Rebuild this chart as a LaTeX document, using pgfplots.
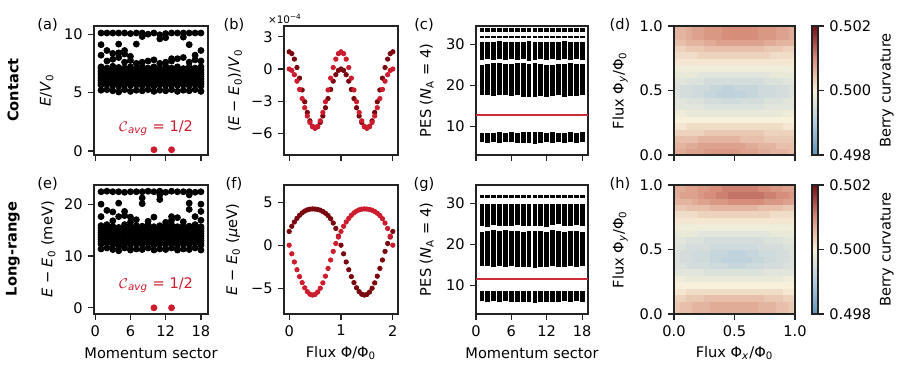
\documentclass[border=0pt]{standalone}
\usepackage{fontspec}
\setmainfont{DejaVu Sans}
\usepackage{pgfplots}
\pgfplotsset{compat=1.18}
\definecolor{dk}{RGB}{122,6,14}
\definecolor{rd}{RGB}{205,28,45}
\definecolor{pesred}{RGB}{205,45,55}
\definecolor{frame}{RGB}{35,35,35}
\pgfplotsset{
  panel/.style={scale only axis, width=57pt, height=64.5pt, anchor=north west,
    axis line style={draw=frame, line width=0.6pt},
    every tick/.style={draw=frame, line width=0.6pt},
    tick align=outside, xtick pos=bottom, ytick pos=left,
    major tick length=3pt,
    font=\fontsize{7.3}{8.8}\selectfont,
    ylabel style={anchor=center},
    xlabel style={anchor=center, at={(rel axis cs:0.5,-0.302)}},
  },
  dots/.style={only marks, mark=*, mark size=1.5pt, black},
  blocks/.style={black, line width=2.4pt, unbounded coords=jump, mark=none},
  fl/.style={only marks, mark=*, mark size=1.1pt},
  berry/.style={colormap={berry}{rgb255=(98,148,192) rgb255=(178,203,220) rgb255=(247,240,218) rgb255=(214,142,122) rgb255=(122,12,22)},
    point meta min=-20, point meta max=20, axis on top,
    xmin=-0.5, xmax=19.5, ymin=-0.5, ymax=19.5,
    xtick={-0.5,9.5,19.5}, ytick={-0.5,9.5,19.5}, yticklabels={0.0,0.5,1.0},
    colorbar,
    colorbar style={scale only axis, width=3pt, height=64.5pt, at={(parent axis.north east)}, anchor=north west,
      ytick={-20,0,20}, yticklabels={0.498,0.500,0.502}, yticklabel pos=right, ytick pos=right,
      tick align=outside, major tick length=3pt, font=\fontsize{7.3}{8.8}\selectfont,
      axis line style={draw=frame, line width=0.6pt}, every tick/.style={draw=frame, line width=0.6pt},
      ylabel={Berry curvature}, ylabel style={at={(rel axis cs:12.45,0.5)}, anchor=center}},
  },
}
\begin{document}
\fontsize{7.3}{8.8}\selectfont
\begin{tikzpicture}
\path[use as bounding box] (0,0) rectangle (448.5pt,-185pt);

% ---------------- (a)
\begin{axis}[panel, at={(47pt,-13pt)}, xmin=-0.2, xmax=19.2, ymin=-0.35, ymax=10.7,
  xtick={0,6,12,18}, xticklabels={}, ytick={0,5,10}, yticklabels={0,5,10},
  ylabel={\textit{E}/\textit{V}\textsubscript{0}}, ylabel style={at={(rel axis cs:-0.415,0.5)}}]
\addplot[dots] table[row sep=\\] {x y\\
1 5.20\\1 5.65\\1 5.85\\1 6.05\\1 6.25\\1 6.45\\1 6.65\\1 6.85\\1 7.05\\1 7.20\\1 8.20\\1 9.10\\1 10.10\\
2 5.25\\2 5.70\\2 5.90\\2 6.10\\2 6.30\\2 6.50\\2 6.70\\2 6.90\\2 7.10\\2 7.70\\2 8.60\\2 10.10\\
3 5.15\\3 5.60\\3 5.80\\3 6.00\\3 6.20\\3 6.40\\3 6.60\\3 6.80\\3 7.00\\3 7.25\\3 7.85\\3 8.35\\3 10.10\\
4 5.05\\4 5.55\\4 5.75\\4 5.95\\4 6.15\\4 6.35\\4 6.55\\4 6.75\\4 6.95\\4 7.15\\4 8.00\\4 8.40\\4 9.15\\4 10.10\\
5 5.25\\5 5.70\\5 5.90\\5 6.10\\5 6.30\\5 6.50\\5 6.70\\5 6.90\\5 7.10\\5 7.60\\5 8.30\\5 8.60\\5 10.10\\
6 5.10\\6 5.60\\6 5.80\\6 6.00\\6 6.20\\6 6.40\\6 6.60\\6 6.80\\6 7.00\\6 7.20\\6 7.75\\6 8.10\\6 10.05\\
7 5.20\\7 5.65\\7 5.85\\7 6.05\\7 6.25\\7 6.45\\7 6.65\\7 6.85\\7 7.05\\7 7.50\\7 9.15\\7 10.10\\
8 5.15\\8 5.60\\8 5.80\\8 6.00\\8 6.20\\8 6.40\\8 6.60\\8 6.80\\8 7.00\\8 7.25\\8 7.60\\8 9.80\\8 10.10\\
9 5.25\\9 5.70\\9 5.90\\9 6.10\\9 6.30\\9 6.50\\9 6.70\\9 6.90\\9 7.10\\9 7.70\\9 10.00\\
10 5.10\\10 5.55\\10 5.75\\10 5.95\\10 6.15\\10 6.35\\10 6.55\\10 6.75\\10 6.95\\10 7.20\\10 7.80\\10 10.10\\
11 5.20\\11 5.65\\11 5.85\\11 6.05\\11 6.25\\11 6.45\\11 6.65\\11 6.85\\11 7.05\\11 7.50\\11 9.60\\11 9.95\\
12 5.15\\12 5.60\\12 5.80\\12 6.00\\12 6.20\\12 6.40\\12 6.60\\12 6.80\\12 7.00\\12 7.25\\12 7.60\\12 9.70\\12 10.05\\
13 5.25\\13 5.70\\13 5.90\\13 6.10\\13 6.30\\13 6.50\\13 6.70\\13 6.90\\13 7.10\\13 7.70\\13 7.90\\13 10.10\\
14 5.10\\14 5.60\\14 5.80\\14 6.00\\14 6.20\\14 6.40\\14 6.60\\14 6.80\\14 7.00\\14 7.20\\14 7.90\\14 10.10\\
15 5.20\\15 5.65\\15 5.85\\15 6.05\\15 6.25\\15 6.45\\15 6.65\\15 6.85\\15 7.05\\15 8.00\\15 9.75\\15 10.10\\
16 5.15\\16 5.60\\16 5.80\\16 6.00\\16 6.20\\16 6.40\\16 6.60\\16 6.80\\16 7.00\\16 7.20\\16 7.60\\16 9.10\\16 10.10\\
17 5.25\\17 5.70\\17 5.90\\17 6.10\\17 6.30\\17 6.50\\17 6.70\\17 6.90\\17 7.10\\17 7.80\\17 8.20\\17 10.10\\
18 5.10\\18 5.55\\18 5.75\\18 5.95\\18 6.15\\18 6.35\\18 6.55\\18 6.75\\18 6.95\\18 7.20\\18 7.70\\18 8.60\\18 10.10\\
};
\addplot[only marks, mark=*, mark size=1.5pt, rd] coordinates {(10,0.1) (13,0.1)};
\node[anchor=east, text=rd] at (rel axis cs:0.915,0.21) {$\mathcal{C}$\textsubscript{\textit{avg}} = 1/2};
\end{axis}

% ---------------- (e)
\begin{axis}[panel, at={(47pt,-92.5pt)}, xmin=-0.2, xmax=19.2, ymin=-1.2, ymax=23.7,
  xtick={0,6,12,18}, xticklabels={0,6,12,18}, ytick={0,10,20}, yticklabels={0,10,20},
  xlabel={Momentum sector},
  ylabel={\textit{E} − \textit{E}\textsubscript{0} (meV)}, ylabel style={at={(rel axis cs:-0.40,0.5)}}]
\addplot[dots] table[row sep=\\] {x y\\
1 11.35\\1 12.30\\1 12.75\\1 13.20\\1 13.65\\1 14.10\\1 14.55\\1 15.00\\1 15.45\\1 15.85\\1 17.6\\1 20.0\\1 22.4\\
2 11.55\\2 12.50\\2 12.95\\2 13.40\\2 13.85\\2 14.30\\2 14.75\\2 15.20\\2 15.65\\2 16.05\\2 18.8\\2 22.5\\
3 11.25\\3 12.20\\3 12.65\\3 13.10\\3 13.55\\3 14.00\\3 14.45\\3 14.90\\3 15.35\\3 15.75\\3 16.8\\3 18.5\\3 22.4\\
4 11.00\\4 11.95\\4 12.40\\4 12.85\\4 13.30\\4 13.75\\4 14.20\\4 14.65\\4 15.10\\4 15.50\\4 17.6\\4 20.2\\4 22.4\\
5 11.55\\5 12.50\\5 12.95\\5 13.40\\5 13.85\\5 14.30\\5 14.75\\5 15.20\\5 15.65\\5 16.05\\5 17.8\\5 18.6\\5 22.3\\
6 11.15\\6 12.10\\6 12.55\\6 13.00\\6 13.45\\6 13.90\\6 14.35\\6 14.80\\6 15.25\\6 15.65\\6 16.5\\6 17.5\\6 22.4\\
7 11.35\\7 12.30\\7 12.75\\7 13.20\\7 13.65\\7 14.10\\7 14.55\\7 15.00\\7 15.45\\7 15.85\\7 17.0\\7 22.4\\
8 11.25\\8 12.20\\8 12.65\\8 13.10\\8 13.55\\8 14.00\\8 14.45\\8 14.90\\8 15.35\\8 15.75\\8 20.1\\8 21.2\\8 22.4\\
9 11.55\\9 12.50\\9 12.95\\9 13.40\\9 13.85\\9 14.30\\9 14.75\\9 15.20\\9 15.65\\9 16.05\\9 16.7\\9 22.5\\
10 11.15\\10 12.10\\10 12.55\\10 13.00\\10 13.45\\10 13.90\\10 14.35\\10 14.80\\10 15.25\\10 15.65\\10 17.5\\10 22.4\\
11 11.35\\11 12.30\\11 12.75\\11 13.20\\11 13.65\\11 14.10\\11 14.55\\11 15.00\\11 15.45\\11 15.85\\11 20.9\\11 21.8\\11 22.5\\
12 11.25\\12 12.20\\12 12.65\\12 13.10\\12 13.55\\12 14.00\\12 14.45\\12 14.90\\12 15.35\\12 15.75\\12 16.5\\12 22.3\\
13 11.55\\13 12.50\\13 12.95\\13 13.40\\13 13.85\\13 14.30\\13 14.75\\13 15.20\\13 15.65\\13 16.05\\13 16.9\\13 17.6\\13 22.5\\
14 11.15\\14 12.10\\14 12.55\\14 13.00\\14 13.45\\14 13.90\\14 14.35\\14 14.80\\14 15.25\\14 15.65\\14 17.4\\14 22.4\\
15 11.35\\15 12.30\\15 12.75\\15 13.20\\15 13.65\\15 14.10\\15 14.55\\15 15.00\\15 15.45\\15 15.85\\15 16.6\\15 22.4\\
16 11.25\\16 12.20\\16 12.65\\16 13.10\\16 13.55\\16 14.00\\16 14.45\\16 14.90\\16 15.35\\16 15.75\\16 19.0\\16 20.2\\16 21.8\\16 22.4\\
17 11.55\\17 12.50\\17 12.95\\17 13.40\\17 13.85\\17 14.30\\17 14.75\\17 15.20\\17 15.65\\17 16.05\\17 17.6\\17 22.3\\
18 11.15\\18 12.10\\18 12.55\\18 13.00\\18 13.45\\18 13.90\\18 14.35\\18 14.80\\18 15.25\\18 15.65\\18 16.9\\18 18.6\\18 20.0\\18 22.4\\
};
\addplot[only marks, mark=*, mark size=1.5pt, rd] coordinates {(10,0) (13,0)};
\node[anchor=east, text=rd] at (rel axis cs:0.915,0.225) {$\mathcal{C}$\textsubscript{\textit{avg}} = 1/2};
\end{axis}

% ---------------- (b)
\begin{axis}[panel, at={(142pt,-13pt)}, xmin=-0.1, xmax=2.1, ymin=-8, ymax=4,
  xtick={0,1,2}, xticklabels={}, ytick={-6,-3,0,3}, yticklabels={−6,−3,0,3},
  ylabel={(\textit{E} − \textit{E}\textsubscript{0})/\textit{V}\textsubscript{0}}, ylabel style={at={(rel axis cs:-0.43,0.5)}}]
\addplot[fl, dk] coordinates {(0,1.60) (0.05,1.43) (0.1,0.92) (0.15,0.14) (0.2,-0.85) (0.25,-1.95) (0.3,-3.05) (0.35,-4.04) (0.4,-4.82) (0.45,-5.33) (0.5,-5.50) (0.55,-5.37) (0.6,-4.97) (0.65,-4.37) (0.7,-3.60) (0.75,-2.75) (0.8,-1.90) (0.85,-1.13) (0.9,-0.53) (0.95,-0.13) (1.0,0.00) (1.05,-0.13) (1.1,-0.53) (1.15,-1.13) (1.2,-1.90) (1.25,-2.75) (1.3,-3.60) (1.35,-4.37) (1.4,-4.97) (1.45,-5.37) (1.5,-5.50) (1.55,-5.33) (1.6,-4.82) (1.65,-4.04) (1.7,-3.05) (1.75,-1.95) (1.8,-0.85) (1.85,0.14) (1.9,0.92) (1.95,1.43) (2.0,1.60)};
\addplot[fl, rd] coordinates {(0,0.00) (0.05,-0.13) (0.1,-0.53) (0.15,-1.13) (0.2,-1.90) (0.25,-2.75) (0.3,-3.60) (0.35,-4.37) (0.4,-4.97) (0.45,-5.37) (0.5,-5.50) (0.55,-5.33) (0.6,-4.82) (0.65,-4.04) (0.7,-3.05) (0.75,-1.95) (0.8,-0.85) (0.85,0.14) (0.9,0.92) (0.95,1.43) (1.0,1.60) (1.05,1.43) (1.1,0.92) (1.15,0.14) (1.2,-0.85) (1.25,-1.95) (1.3,-3.05) (1.35,-4.04) (1.4,-4.82) (1.45,-5.33) (1.5,-5.50) (1.55,-5.37) (1.6,-4.97) (1.65,-4.37) (1.7,-3.60) (1.75,-2.75) (1.8,-1.90) (1.85,-1.13) (1.9,-0.53) (1.95,-0.13) (2.0,0.00)};
\end{axis}

% ---------------- (f)
\begin{axis}[panel, at={(142pt,-92.5pt)}, xmin=-0.1, xmax=2.1, ymin=-8, ymax=7,
  xtick={0,1,2}, xticklabels={0,1,2}, ytick={-5,0,5}, yticklabels={−5,0,5},
  xlabel={Flux Φ/Φ\textsubscript{0}},
  ylabel={\textit{E} − \textit{E}\textsubscript{0} (\textit{μ}eV)}, ylabel style={at={(rel axis cs:-0.447,0.5)}}]
\addplot[fl, dk] coordinates {(0,1.60) (0.05,2.20) (0.1,2.70) (0.15,3.12) (0.2,3.48) (0.25,3.76) (0.3,3.97) (0.35,4.11) (0.4,4.19) (0.45,4.22) (0.5,4.20) (0.55,4.16) (0.6,4.07) (0.65,3.92) (0.7,3.72) (0.75,3.45) (0.8,3.08) (0.85,2.58) (0.9,1.95) (0.95,1.05) (1.0,0.00) (1.05,-1.00) (1.1,-1.95) (1.15,-2.85) (1.2,-3.65) (1.25,-4.35) (1.3,-4.95) (1.35,-5.40) (1.4,-5.70) (1.45,-5.80) (1.5,-5.72) (1.55,-5.45) (1.6,-5.00) (1.65,-4.38) (1.7,-3.60) (1.75,-2.70) (1.8,-1.72) (1.85,-0.72) (1.9,0.20) (1.95,0.95) (2.0,1.60)};
\addplot[fl, rd] coordinates {(0,0.00) (0.05,-1.00) (0.1,-1.95) (0.15,-2.85) (0.2,-3.65) (0.25,-4.35) (0.3,-4.95) (0.35,-5.40) (0.4,-5.70) (0.45,-5.80) (0.5,-5.72) (0.55,-5.45) (0.6,-5.00) (0.65,-4.38) (0.7,-3.60) (0.75,-2.70) (0.8,-1.72) (0.85,-0.72) (0.9,0.20) (0.95,0.95) (1.0,1.60) (1.05,2.20) (1.1,2.70) (1.15,3.12) (1.2,3.48) (1.25,3.76) (1.3,3.97) (1.35,4.11) (1.4,4.19) (1.45,4.22) (1.5,4.20) (1.55,4.16) (1.6,4.07) (1.65,3.92) (1.7,3.72) (1.75,3.45) (1.8,3.08) (1.85,2.58) (1.9,1.95) (1.95,1.05) (2.0,0.00)};
\end{axis}

% ---------------- (c)
\begin{axis}[panel, at={(238pt,-13pt)}, width=56pt, xmin=0, xmax=19, ymin=3.1, ymax=34.5,
  xtick={0,6,12,18}, xticklabels={}, ytick={10,20,30}, yticklabels={10,20,30},
  ylabel={PES (\textit{N}\textsubscript{A} = 4)}, ylabel style={at={(rel axis cs:-0.44,0.5)}}]
\addplot[blocks] table[row sep=\\] {x y\\
1 6.2\\1 8.5\\1 nan\\2 6.1\\2 8.4\\2 nan\\3 6.2\\3 8.5\\3 nan\\4 6.1\\4 8.6\\4 nan\\5 6.3\\5 8.4\\5 nan\\6 6.2\\6 8.7\\6 nan\\
7 6.1\\7 8.5\\7 nan\\8 6.0\\8 8.6\\8 nan\\9 6.0\\9 8.8\\9 nan\\10 5.9\\10 8.7\\10 nan\\11 6.1\\11 8.6\\11 nan\\12 6.2\\12 8.5\\12 nan\\
13 6.1\\13 8.6\\13 nan\\14 6.2\\14 8.5\\14 nan\\15 6.1\\15 8.4\\15 nan\\16 6.2\\16 8.6\\16 nan\\17 6.1\\17 8.5\\17 nan\\18 6.2\\18 8.6\\18 nan\\
};
\addplot[blocks] table[row sep=\\] {x y\\
1 17.8\\1 25.1\\1 nan\\2 17.6\\2 25.3\\2 nan\\3 17.5\\3 25.4\\3 nan\\4 17.7\\4 25.6\\4 nan\\5 17.6\\5 25.3\\5 nan\\6 17.4\\6 25.2\\6 nan\\
7 17.6\\7 25.4\\7 nan\\8 17.3\\8 25.5\\8 nan\\9 17.2\\9 25.3\\9 nan\\10 17.1\\10 25.5\\10 nan\\11 17.4\\11 25.2\\11 nan\\12 17.2\\12 25.1\\12 nan\\
13 17.4\\13 25.0\\13 nan\\14 17.6\\14 25.3\\14 nan\\15 17.3\\15 25.2\\15 nan\\16 17.5\\16 25.4\\16 nan\\17 17.4\\17 25.3\\17 nan\\18 17.6\\18 25.2\\18 nan\\
};
\addplot[blocks] table[row sep=\\] {x y\\
1 26.3\\1 30.6\\1 nan\\2 26.5\\2 30.7\\2 nan\\3 26.2\\3 30.6\\3 nan\\4 26.4\\4 30.8\\4 nan\\5 26.3\\5 30.6\\5 nan\\6 26.5\\6 30.7\\6 nan\\
7 26.2\\7 30.6\\7 nan\\8 26.4\\8 30.7\\8 nan\\9 26.1\\9 30.8\\9 nan\\10 26.3\\10 30.6\\10 nan\\11 26.4\\11 30.7\\11 nan\\12 26.2\\12 30.6\\12 nan\\
13 26.5\\13 30.7\\13 nan\\14 26.3\\14 30.6\\14 nan\\15 26.4\\15 30.8\\15 nan\\16 26.2\\16 30.6\\16 nan\\17 26.5\\17 30.7\\17 nan\\18 26.3\\18 30.6\\18 nan\\
};
\addplot[blocks] table[row sep=\\] {x y\\
1 31.5\\1 32.1\\1 nan\\2 31.5\\2 32.1\\2 nan\\3 31.5\\3 32.1\\3 nan\\4 31.5\\4 32.1\\4 nan\\5 31.5\\5 32.1\\5 nan\\6 31.5\\6 32.1\\6 nan\\
7 31.5\\7 32.1\\7 nan\\8 31.5\\8 32.1\\8 nan\\9 31.5\\9 32.1\\9 nan\\10 31.5\\10 32.1\\10 nan\\11 31.5\\11 32.1\\11 nan\\12 31.5\\12 32.1\\12 nan\\
13 31.5\\13 32.1\\13 nan\\14 31.5\\14 32.1\\14 nan\\15 31.5\\15 32.1\\15 nan\\16 31.5\\16 32.1\\16 nan\\17 31.5\\17 32.1\\17 nan\\18 31.5\\18 32.1\\18 nan\\
};
\addplot[blocks] table[row sep=\\] {x y\\
1 33.1\\1 33.9\\1 nan\\2 33.1\\2 33.9\\2 nan\\3 33.1\\3 33.9\\3 nan\\4 33.1\\4 33.9\\4 nan\\5 33.1\\5 33.9\\5 nan\\6 33.1\\6 33.9\\6 nan\\
7 33.1\\7 33.9\\7 nan\\8 33.1\\8 33.9\\8 nan\\9 33.1\\9 33.9\\9 nan\\10 33.1\\10 33.9\\10 nan\\11 33.1\\11 33.9\\11 nan\\12 33.1\\12 33.9\\12 nan\\
13 33.1\\13 33.9\\13 nan\\14 33.1\\14 33.9\\14 nan\\15 33.1\\15 33.9\\15 nan\\16 33.1\\16 33.9\\16 nan\\17 33.1\\17 33.9\\17 nan\\18 33.1\\18 33.9\\18 nan\\
};
\addplot[pesred, line width=0.8pt, mark=none] coordinates {(0,12.85) (19,12.85)};
\end{axis}

% ---------------- (g)
\begin{axis}[panel, at={(238pt,-92.5pt)}, width=56pt, xmin=0, xmax=19, ymin=3.1, ymax=34.5,
  xtick={0,6,12,18}, xticklabels={0,6,12,18}, ytick={10,20,30}, yticklabels={10,20,30},
  xlabel={Momentum sector},
  ylabel={PES (\textit{N}\textsubscript{A} = 4)}, ylabel style={at={(rel axis cs:-0.44,0.5)}}]
\addplot[blocks] table[row sep=\\] {x y\\
1 6.2\\1 8.6\\1 nan\\2 6.0\\2 8.7\\2 nan\\3 6.2\\3 8.6\\3 nan\\4 6.1\\4 8.8\\4 nan\\5 6.2\\5 8.6\\5 nan\\6 6.1\\6 8.7\\6 nan\\
7 6.0\\7 8.6\\7 nan\\8 6.1\\8 8.7\\8 nan\\9 6.0\\9 8.6\\9 nan\\10 5.9\\10 8.7\\10 nan\\11 6.0\\11 8.6\\11 nan\\12 6.1\\12 8.7\\12 nan\\
13 6.0\\13 8.6\\13 nan\\14 6.1\\14 8.7\\14 nan\\15 6.2\\15 8.6\\15 nan\\16 6.1\\16 8.7\\16 nan\\17 6.2\\17 8.6\\17 nan\\18 6.1\\18 8.7\\18 nan\\
};
\addplot[blocks] table[row sep=\\] {x y\\
1 14.9\\1 23.1\\1 nan\\2 14.7\\2 23.3\\2 nan\\3 14.6\\3 23.5\\3 nan\\4 14.8\\4 23.4\\4 nan\\5 14.6\\5 23.5\\5 nan\\6 14.7\\6 23.2\\6 nan\\
7 14.5\\7 23.3\\7 nan\\8 14.6\\8 23.1\\8 nan\\9 14.5\\9 23.4\\9 nan\\10 14.4\\10 23.2\\10 nan\\11 14.6\\11 23.3\\11 nan\\12 14.5\\12 23.1\\12 nan\\
13 14.7\\13 23.5\\13 nan\\14 14.6\\14 23.2\\14 nan\\15 14.5\\15 23.1\\15 nan\\16 14.7\\16 23.4\\16 nan\\17 14.6\\17 23.2\\17 nan\\18 14.8\\18 23.1\\18 nan\\
};
\addplot[blocks] table[row sep=\\] {x y\\
1 24.6\\1 29.8\\1 nan\\2 24.3\\2 29.9\\2 nan\\3 24.8\\3 29.8\\3 nan\\4 24.5\\4 29.9\\4 nan\\5 24.4\\5 29.8\\5 nan\\6 24.6\\6 29.9\\6 nan\\
7 24.7\\7 29.8\\7 nan\\8 24.5\\8 29.9\\8 nan\\9 24.4\\9 29.8\\9 nan\\10 24.6\\10 29.9\\10 nan\\11 24.5\\11 29.8\\11 nan\\12 24.3\\12 29.9\\12 nan\\
13 24.8\\13 29.8\\13 nan\\14 24.9\\14 29.9\\14 nan\\15 24.6\\15 29.8\\15 nan\\16 24.4\\16 29.9\\16 nan\\17 24.7\\17 29.8\\17 nan\\18 24.5\\18 29.9\\18 nan\\
};
\addplot[blocks] table[row sep=\\] {x y\\
1 31.3\\1 32.0\\1 nan\\2 31.3\\2 32.0\\2 nan\\3 31.3\\3 32.0\\3 nan\\4 31.3\\4 32.0\\4 nan\\5 31.3\\5 32.0\\5 nan\\6 31.3\\6 32.0\\6 nan\\
7 31.3\\7 32.0\\7 nan\\8 31.3\\8 32.0\\8 nan\\9 31.3\\9 32.0\\9 nan\\10 31.3\\10 32.0\\10 nan\\11 31.3\\11 32.0\\11 nan\\12 31.3\\12 32.0\\12 nan\\
13 31.3\\13 32.0\\13 nan\\14 31.3\\14 32.0\\14 nan\\15 31.3\\15 32.0\\15 nan\\16 31.3\\16 32.0\\16 nan\\17 31.3\\17 32.0\\17 nan\\18 31.3\\18 32.0\\18 nan\\
};
\addplot[pesred, line width=0.8pt, mark=none] coordinates {(0,11.55) (19,11.55)};
\end{axis}

% ---------------- (d)
\begin{axis}[panel, berry, at={(337pt,-13pt)}, width=60.5pt, xticklabels={},
  ylabel={Flux Φ\textsubscript{\textit{y}}/Φ\textsubscript{0}}, ylabel style={at={(rel axis cs:-0.446,0.5)}}]
\addplot[matrix plot*, mesh/cols=20, point meta=explicit] table[row sep=\\, meta=v] {x y v\\
0 0 7\\1 0 7\\2 0 8\\3 0 8\\4 0 8\\5 0 9\\6 0 9\\7 0 9\\8 0 9\\9 0 9\\10 0 9\\11 0 8\\12 0 8\\13 0 8\\14 0 7\\15 0 7\\16 0 6\\17 0 6\\18 0 6\\19 0 5\\
0 1 6\\1 1 6\\2 1 7\\3 1 7\\4 1 8\\5 1 8\\6 1 8\\7 1 8\\8 1 8\\9 1 8\\10 1 8\\11 1 8\\12 1 7\\13 1 7\\14 1 6\\15 1 6\\16 1 6\\17 1 5\\18 1 5\\19 1 5\\
0 2 5\\1 2 5\\2 2 5\\3 2 5\\4 2 6\\5 2 6\\6 2 6\\7 2 6\\8 2 6\\9 2 6\\10 2 6\\11 2 5\\12 2 5\\13 2 5\\14 2 5\\15 2 4\\16 2 4\\17 2 4\\18 2 4\\19 2 4\\
0 3 3\\1 3 3\\2 3 3\\3 3 3\\4 3 3\\5 3 4\\6 3 4\\7 3 4\\8 3 4\\9 3 4\\10 3 4\\11 3 4\\12 3 4\\13 3 4\\14 3 4\\15 3 3\\16 3 3\\17 3 3\\18 3 3\\19 3 3\\
0 4 1\\1 4 1\\2 4 2\\3 4 2\\4 4 2\\5 4 2\\6 4 2\\7 4 2\\8 4 2\\9 4 2\\10 4 2\\11 4 2\\12 4 2\\13 4 2\\14 4 2\\15 4 2\\16 4 2\\17 4 2\\18 4 1\\19 4 1\\
0 5 0\\1 5 0\\2 5 0\\3 5 0\\4 5 0\\5 5 0\\6 5 0\\7 5 0\\8 5 0\\9 5 0\\10 5 0\\11 5 0\\12 5 0\\13 5 0\\14 5 0\\15 5 0\\16 5 0\\17 5 0\\18 5 0\\19 5 0\\
0 6 -1\\1 6 -1\\2 6 -2\\3 6 -2\\4 6 -2\\5 6 -2\\6 6 -2\\7 6 -2\\8 6 -2\\9 6 -2\\10 6 -2\\11 6 -2\\12 6 -2\\13 6 -2\\14 6 -2\\15 6 -2\\16 6 -2\\17 6 -2\\18 6 -1\\19 6 -1\\
0 7 -3\\1 7 -3\\2 7 -3\\3 7 -3\\4 7 -3\\5 7 -4\\6 7 -4\\7 7 -4\\8 7 -4\\9 7 -4\\10 7 -4\\11 7 -4\\12 7 -4\\13 7 -4\\14 7 -4\\15 7 -3\\16 7 -3\\17 7 -3\\18 7 -3\\19 7 -3\\
0 8 -3\\1 8 -3\\2 8 -4\\3 8 -4\\4 8 -4\\5 8 -5\\6 8 -5\\7 8 -5\\8 8 -6\\9 8 -6\\10 8 -6\\11 8 -5\\12 8 -5\\13 8 -5\\14 8 -5\\15 8 -4\\16 8 -4\\17 8 -4\\18 8 -3\\19 8 -3\\
0 9 -4\\1 9 -5\\2 9 -5\\3 9 -6\\4 9 -6\\5 9 -7\\6 9 -7\\7 9 -8\\8 9 -8\\9 9 -8\\10 9 -8\\11 9 -8\\12 9 -7\\13 9 -7\\14 9 -6\\15 9 -6\\16 9 -6\\17 9 -5\\18 9 -5\\19 9 -4\\
0 10 -4\\1 10 -5\\2 10 -5\\3 10 -6\\4 10 -6\\5 10 -6\\6 10 -7\\7 10 -7\\8 10 -8\\9 10 -8\\10 10 -7\\11 10 -7\\12 10 -7\\13 10 -7\\14 10 -6\\15 10 -6\\16 10 -6\\17 10 -5\\18 10 -5\\19 10 -4\\
0 11 -3\\1 11 -3\\2 11 -4\\3 11 -4\\4 11 -4\\5 11 -5\\6 11 -5\\7 11 -5\\8 11 -5\\9 11 -5\\10 11 -5\\11 11 -5\\12 11 -5\\13 11 -5\\14 11 -5\\15 11 -4\\16 11 -4\\17 11 -4\\18 11 -3\\19 11 -3\\
0 12 -2\\1 12 -2\\2 12 -2\\3 12 -2\\4 12 -3\\5 12 -3\\6 12 -3\\7 12 -3\\8 12 -3\\9 12 -3\\10 12 -3\\11 12 -3\\12 12 -3\\13 12 -3\\14 12 -3\\15 12 -3\\16 12 -2\\17 12 -2\\18 12 -2\\19 12 -2\\
0 13 -1\\1 13 -1\\2 13 -1\\3 13 -1\\4 13 -1\\5 13 -1\\6 13 -1\\7 13 -1\\8 13 -1\\9 13 -1\\10 13 -1\\11 13 -1\\12 13 -1\\13 13 -1\\14 13 -1\\15 13 -1\\16 13 -1\\17 13 -1\\18 13 -1\\19 13 -1\\
0 14 1\\1 14 1\\2 14 1\\3 14 1\\4 14 1\\5 14 1\\6 14 1\\7 14 1\\8 14 1\\9 14 1\\10 14 1\\11 14 1\\12 14 1\\13 14 1\\14 14 1\\15 14 1\\16 14 1\\17 14 1\\18 14 1\\19 14 1\\
0 15 2\\1 15 2\\2 15 2\\3 15 2\\4 15 3\\5 15 3\\6 15 3\\7 15 3\\8 15 3\\9 15 3\\10 15 3\\11 15 3\\12 15 3\\13 15 3\\14 15 3\\15 15 3\\16 15 2\\17 15 2\\18 15 2\\19 15 2\\
0 16 3\\1 16 3\\2 16 4\\3 16 4\\4 16 4\\5 16 5\\6 16 5\\7 16 5\\8 16 5\\9 16 5\\10 16 5\\11 16 5\\12 16 5\\13 16 5\\14 16 5\\15 16 4\\16 16 4\\17 16 4\\18 16 3\\19 16 3\\
0 17 5\\1 17 5\\2 17 6\\3 17 6\\4 17 6\\5 17 7\\6 17 7\\7 17 8\\8 17 8\\9 17 8\\10 17 8\\11 17 8\\12 17 8\\13 17 8\\14 17 8\\15 17 7\\16 17 7\\17 17 6\\18 17 6\\19 17 6\\
0 18 6\\1 18 6\\2 18 7\\3 18 8\\4 18 8\\5 18 9\\6 18 9\\7 18 9\\8 18 10\\9 18 10\\10 18 10\\11 18 10\\12 18 10\\13 18 10\\14 18 9\\15 18 9\\16 18 9\\17 18 8\\18 18 8\\19 18 7\\
0 19 6\\1 19 6\\2 19 7\\3 19 8\\4 19 8\\5 19 9\\6 19 9\\7 19 9\\8 19 10\\9 19 10\\10 19 10\\11 19 10\\12 19 10\\13 19 10\\14 19 9\\15 19 9\\16 19 9\\17 19 8\\18 19 8\\19 19 7\\
};
\end{axis}

% ---------------- (h)
\begin{axis}[panel, berry, at={(337pt,-92.5pt)}, width=60.5pt, xticklabels={0.0,0.5,1.0},
  xlabel={Flux Φ\textsubscript{\textit{x}}/Φ\textsubscript{0}},
  ylabel={Flux Φ\textsubscript{\textit{y}}/Φ\textsubscript{0}}, ylabel style={at={(rel axis cs:-0.446,0.5)}}]
\addplot[matrix plot*, mesh/cols=20, point meta=explicit] table[row sep=\\, meta=v] {x y v\\
0 0 4\\1 0 5\\2 0 5\\3 0 6\\4 0 6\\5 0 6\\6 0 7\\7 0 7\\8 0 7\\9 0 7\\10 0 7\\11 0 7\\12 0 7\\13 0 7\\14 0 6\\15 0 6\\16 0 6\\17 0 5\\18 0 5\\19 0 4\\
0 1 4\\1 1 5\\2 1 5\\3 1 6\\4 1 6\\5 1 6\\6 1 7\\7 1 7\\8 1 7\\9 1 7\\10 1 7\\11 1 7\\12 1 7\\13 1 7\\14 1 6\\15 1 6\\16 1 6\\17 1 5\\18 1 5\\19 1 4\\
0 2 3\\1 2 3\\2 2 4\\3 2 4\\4 2 4\\5 2 5\\6 2 5\\7 2 5\\8 2 5\\9 2 5\\10 2 5\\11 2 5\\12 2 5\\13 2 5\\14 2 5\\15 2 4\\16 2 4\\17 2 4\\18 2 3\\19 2 3\\
0 3 1\\1 3 1\\2 3 2\\3 3 2\\4 3 2\\5 3 2\\6 3 2\\7 3 2\\8 3 2\\9 3 2\\10 3 2\\11 3 2\\12 3 2\\13 3 2\\14 3 2\\15 3 2\\16 3 2\\17 3 2\\18 3 1\\19 3 1\\
0 4 0\\1 4 0\\2 4 0\\3 4 0\\4 4 0\\5 4 0\\6 4 0\\7 4 0\\8 4 0\\9 4 0\\10 4 0\\11 4 0\\12 4 0\\13 4 0\\14 4 0\\15 4 0\\16 4 0\\17 4 0\\18 4 0\\19 4 0\\
0 5 -1\\1 5 -1\\2 5 -2\\3 5 -2\\4 5 -2\\5 5 -2\\6 5 -2\\7 5 -2\\8 5 -2\\9 5 -2\\10 5 -2\\11 5 -2\\12 5 -2\\13 5 -2\\14 5 -2\\15 5 -2\\16 5 -2\\17 5 -2\\18 5 -1\\19 5 -1\\
0 6 -3\\1 6 -3\\2 6 -3\\3 6 -3\\4 6 -3\\5 6 -4\\6 6 -4\\7 6 -4\\8 6 -4\\9 6 -4\\10 6 -4\\11 6 -4\\12 6 -4\\13 6 -4\\14 6 -4\\15 6 -3\\16 6 -3\\17 6 -3\\18 6 -3\\19 6 -3\\
0 7 -4\\1 7 -4\\2 7 -5\\3 7 -5\\4 7 -5\\5 7 -5\\6 7 -6\\7 7 -6\\8 7 -6\\9 7 -7\\10 7 -7\\11 7 -7\\12 7 -6\\13 7 -6\\14 7 -6\\15 7 -5\\16 7 -5\\17 7 -5\\18 7 -4\\19 7 -4\\
0 8 -4\\1 8 -5\\2 8 -5\\3 8 -6\\4 8 -6\\5 8 -6\\6 8 -7\\7 8 -7\\8 8 -8\\9 8 -8\\10 8 -8\\11 8 -8\\12 8 -8\\13 8 -7\\14 8 -7\\15 8 -6\\16 8 -6\\17 8 -5\\18 8 -5\\19 8 -4\\
0 9 -4\\1 9 -5\\2 9 -5\\3 9 -6\\4 9 -6\\5 9 -6\\6 9 -7\\7 9 -7\\8 9 -7\\9 9 -8\\10 9 -8\\11 9 -8\\12 9 -7\\13 9 -7\\14 9 -6\\15 9 -6\\16 9 -6\\17 9 -5\\18 9 -5\\19 9 -4\\
0 10 -4\\1 10 -4\\2 10 -5\\3 10 -5\\4 10 -5\\5 10 -5\\6 10 -6\\7 10 -6\\8 10 -6\\9 10 -6\\10 10 -6\\11 10 -6\\12 10 -6\\13 10 -6\\14 10 -5\\15 10 -5\\16 10 -5\\17 10 -5\\18 10 -4\\19 10 -4\\
0 11 -3\\1 11 -3\\2 11 -4\\3 11 -4\\4 11 -4\\5 11 -5\\6 11 -5\\7 11 -5\\8 11 -5\\9 11 -5\\10 11 -5\\11 11 -5\\12 11 -5\\13 11 -5\\14 11 -5\\15 11 -4\\16 11 -4\\17 11 -4\\18 11 -3\\19 11 -3\\
0 12 -2\\1 12 -2\\2 12 -2\\3 12 -2\\4 12 -3\\5 12 -3\\6 12 -3\\7 12 -3\\8 12 -3\\9 12 -3\\10 12 -3\\11 12 -3\\12 12 -3\\13 12 -3\\14 12 -3\\15 12 -3\\16 12 -2\\17 12 -2\\18 12 -2\\19 12 -2\\
0 13 -1\\1 13 -1\\2 13 -1\\3 13 -1\\4 13 -1\\5 13 -1\\6 13 -1\\7 13 -1\\8 13 -1\\9 13 -1\\10 13 -1\\11 13 -1\\12 13 -1\\13 13 -1\\14 13 -1\\15 13 -1\\16 13 -1\\17 13 -1\\18 13 -1\\19 13 -1\\
0 14 1\\1 14 1\\2 14 1\\3 14 1\\4 14 1\\5 14 1\\6 14 1\\7 14 1\\8 14 1\\9 14 1\\10 14 1\\11 14 1\\12 14 1\\13 14 1\\14 14 1\\15 14 1\\16 14 1\\17 14 1\\18 14 1\\19 14 1\\
0 15 2\\1 15 2\\2 15 2\\3 15 2\\4 15 3\\5 15 3\\6 15 3\\7 15 3\\8 15 3\\9 15 3\\10 15 3\\11 15 3\\12 15 3\\13 15 3\\14 15 3\\15 15 3\\16 15 2\\17 15 2\\18 15 2\\19 15 2\\
0 16 4\\1 16 4\\2 16 5\\3 16 5\\4 16 5\\5 16 5\\6 16 6\\7 16 6\\8 16 6\\9 16 6\\10 16 6\\11 16 6\\12 16 6\\13 16 6\\14 16 5\\15 16 5\\16 16 5\\17 16 5\\18 16 4\\19 16 4\\
0 17 6\\1 17 6\\2 17 6\\3 17 7\\4 17 8\\5 17 8\\6 17 9\\7 17 9\\8 17 9\\9 17 10\\10 17 10\\11 17 10\\12 17 10\\13 17 10\\14 17 10\\15 17 9\\16 17 9\\17 17 9\\18 17 8\\19 17 8\\
0 18 7\\1 18 8\\2 18 8\\3 18 8\\4 18 9\\5 18 10\\6 18 10\\7 18 11\\8 18 11\\9 18 12\\10 18 12\\11 18 12\\12 18 12\\13 18 12\\14 18 12\\15 18 11\\16 18 11\\17 18 10\\18 18 10\\19 18 9\\
0 19 7\\1 19 7\\2 19 8\\3 19 8\\4 19 9\\5 19 9\\6 19 10\\7 19 10\\8 19 11\\9 19 11\\10 19 11\\11 19 11\\12 19 11\\13 19 11\\14 19 10\\15 19 10\\16 19 9\\17 19 9\\18 19 8\\19 19 8\\
};
\end{axis}

% ---------------- labels
\node[rotate=90, font=\bfseries] at (6.5pt,-45pt) {Contact};
\node[rotate=90, font=\bfseries] at (6.5pt,-124.5pt) {Long-range};
\node at (23.8pt,-12.7pt) {(a)};
\node at (117pt,-12.7pt) {(b)};
\node at (212pt,-12.7pt) {(c)};
\node at (310pt,-12.7pt) {(d)};
\node at (23.8pt,-92.2pt) {(e)};
\node at (117pt,-92.2pt) {(f)};
\node at (212pt,-92.2pt) {(g)};
\node at (310pt,-92.2pt) {(h)};
\node[font=\fontsize{5.2}{6}\selectfont] at (142.5pt,-9.6pt) {×10\textsuperscript{−4}};
\end{tikzpicture}
\end{document}
